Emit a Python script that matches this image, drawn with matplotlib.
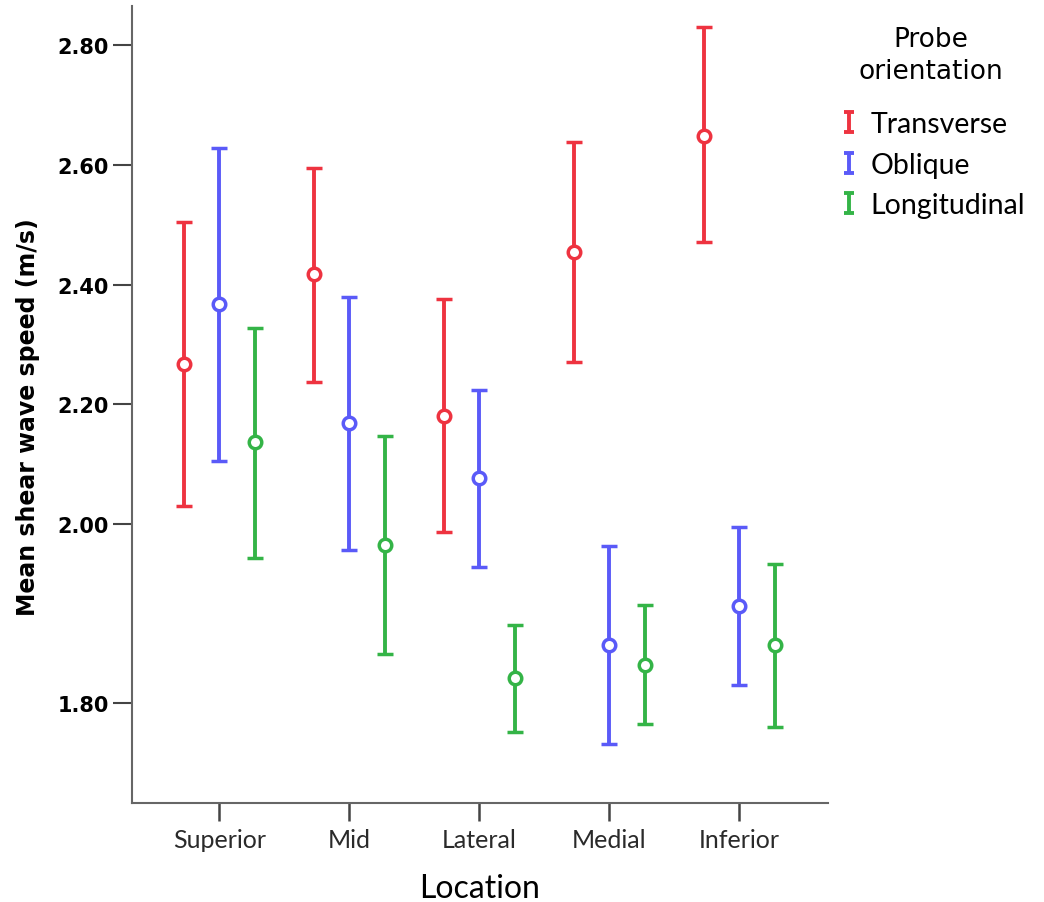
import numpy as np
import matplotlib
matplotlib.use("Agg")
import matplotlib.pyplot as plt
from matplotlib.path import Path
from matplotlib.lines import Line2D

# data (m/s)
locations = ["Superior", "Mid", "Lateral", "Medial", "Inferior"]
orientations = ["Transverse", "Oblique", "Longitudinal"]

transverse_mean = [2.267, 2.417, 2.181, 2.454, 2.649]
transverse_low = [2.030, 2.237, 1.991, 2.270, 2.471]
transverse_high = [2.504, 2.595, 2.376, 2.638, 2.830]

oblique_mean = [2.367, 2.168, 2.077, 1.865, 1.908]
oblique_low = [2.105, 1.971, 1.952, 1.754, 1.820]
oblique_high = [2.628, 2.380, 2.224, 1.976, 1.997]

longitudinal_mean = [2.137, 1.977, 1.828, 1.843, 1.865]
longitudinal_low = [1.962, 1.855, 1.768, 1.777, 1.773]
longitudinal_high = [2.328, 2.147, 1.887, 1.910, 1.955]

y_ticks = [1.80, 2.00, 2.20, 2.40, 2.60, 2.80]

colors = ["#EE3340", "#5A5AF8", "#34B447"]
offsets = [-0.275, 0.0, 0.275]

# the source axis is stretched below 2.00, reproduce it with a piecewise scale
STRETCH = 1.497


def fwd(v):
    v = np.asarray(v, dtype=float)
    return np.where(v >= 2.0, v - 2.0, (v - 2.0) * STRETCH)


def inv(p):
    p = np.asarray(p, dtype=float)
    return np.where(p >= 0.0, p + 2.0, p / STRETCH + 2.0)


W, H = 1044, 903
fig = plt.figure(figsize=(W / 100, H / 100), dpi=100)
ax = fig.add_axes([132 / W, 1 - 804 / H, (828 - 132) / W, (804 - 7) / H])
ax.set_yscale("function", functions=(fwd, inv))

series = [
    (transverse_mean, transverse_low, transverse_high),
    (oblique_mean, oblique_low, oblique_high),
    (longitudinal_mean, longitudinal_low, longitudinal_high),
]
x = np.arange(len(locations))
for (mean, low, high), col, off in zip(series, colors, offsets):
    mean = np.array(mean)
    yerr = np.vstack([mean - np.array(low), np.array(high) - mean])
    ax.errorbar(x + off, mean, yerr=yerr, fmt="o", color=col,
                ecolor=col, elinewidth=2.8, capsize=6, capthick=2.8,
                markersize=9, markerfacecolor="white", markeredgecolor=col,
                markeredgewidth=2.5, zorder=3)

ax.set_xlim(-0.673, 4.681)
ax.set_ylim(1.6886, 2.8655)
ax.set_xticks(x)
ax.set_xticklabels(locations, fontsize=18, family="Lato", color="#2a2a2a")
ax.set_yticks(y_ticks)
ax.set_yticklabels([f"{t:.2f}" for t in y_ticks], fontsize=15,
                   fontweight="bold", family="DejaVu Sans")
ax.yaxis.set_minor_locator(matplotlib.ticker.NullLocator())

for side in ["top", "right"]:
    ax.spines[side].set_visible(False)
for side in ["left", "bottom"]:
    ax.spines[side].set_linewidth(1.5)
    ax.spines[side].set_color("#666666")
ax.tick_params(axis="y", length=13.5, width=1.5, color="#444444", pad=3)
ax.tick_params(axis="x", length=13, width=1.8, color="#444444", pad=5)

ax.set_ylabel("Mean shear wave speed (m/s)", fontsize=17, family="DejaVu Sans",
              fontweight="bold")
ax.yaxis.set_label_coords(-0.132, 0.486)
ax.set_xlabel("Location", fontsize=23, family="Lato", labelpad=16)

# legend with an I-beam glyph like the source
ibeam = Path([(-0.45, -1), (0.45, -1), (0, -1), (0, 1), (-0.45, 1), (0.45, 1)],
             [Path.MOVETO, Path.LINETO, Path.MOVETO, Path.LINETO,
              Path.MOVETO, Path.LINETO])
handles = [Line2D([], [], linestyle="none", marker=ibeam, markersize=15,
                  markeredgewidth=2.8, color=c) for c in colors]
leg = fig.legend(handles, orientations, loc="upper left",
                 bbox_to_anchor=(812 / W, 1 - 1 / H), frameon=False,
                 title="Probe\norientation", handlelength=0.8,
                 handletextpad=0.35, labelspacing=0.5, alignment="center",
                 prop={"family": "Lato", "size": 20.5},
                 title_fontproperties={"family": "DejaVu Sans", "size": 19})
leg.get_title().set_multialignment("center")
leg.get_title().set_linespacing(1.3)
leg._legend_box.sep = 20

fig.savefig("out.png", dpi=100)
